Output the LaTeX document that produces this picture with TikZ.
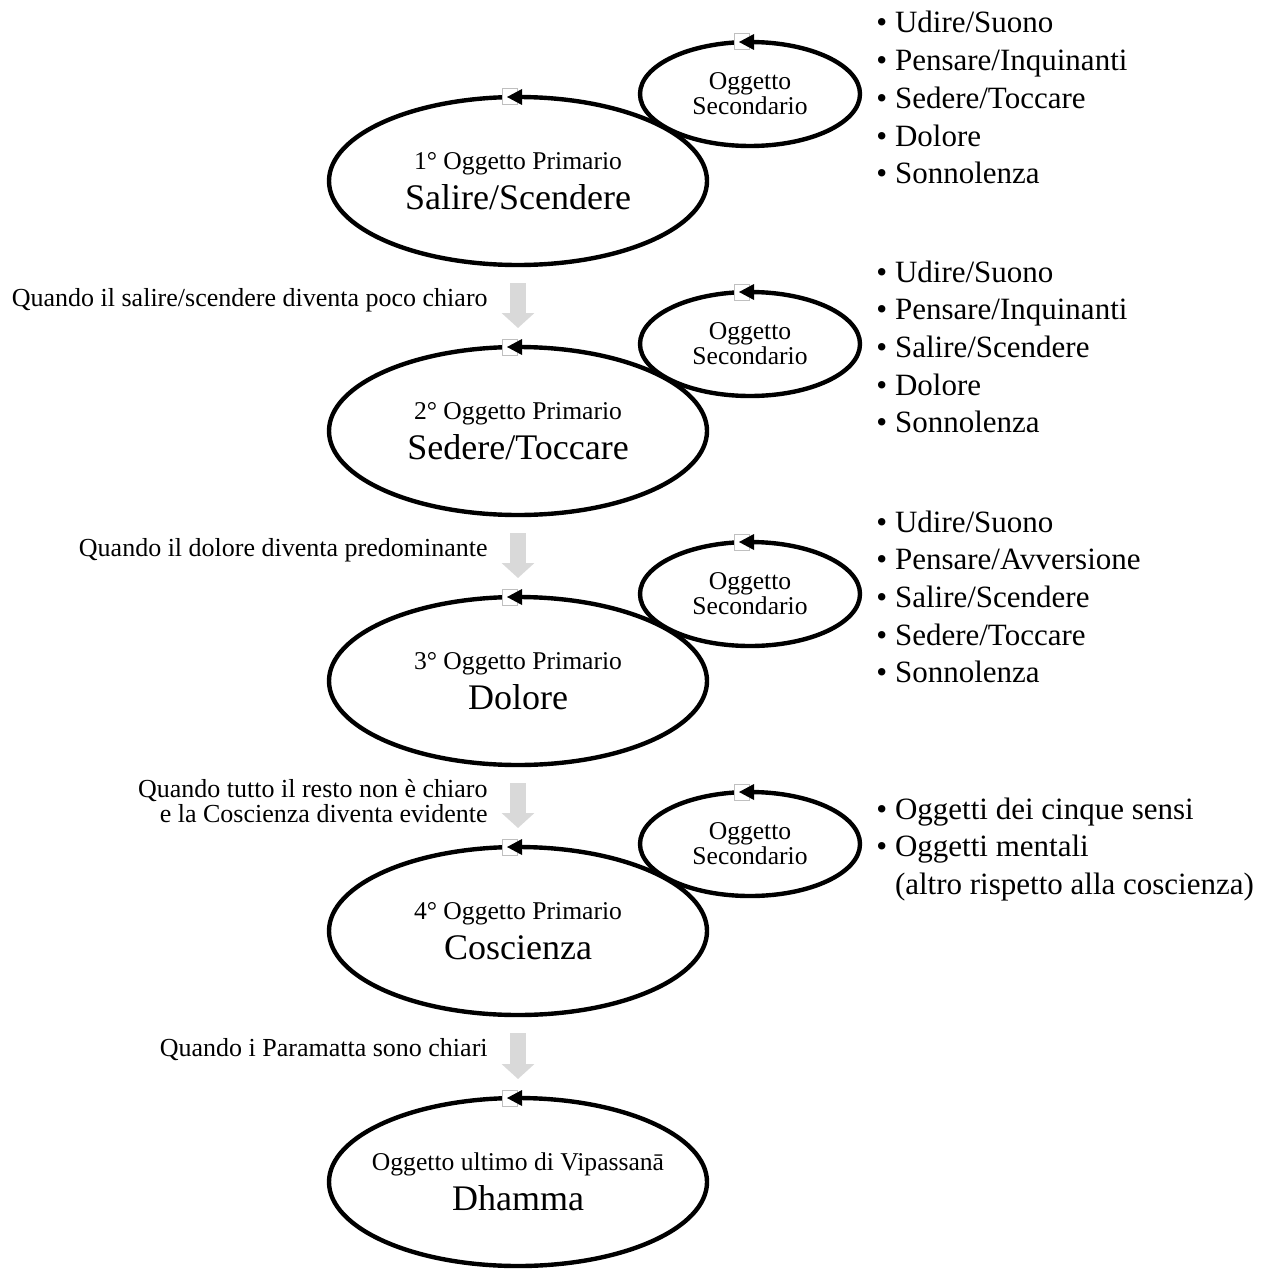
\documentclass[tikz,border=0pt]{standalone}
\usepackage{fontspec}
\setmainfont{Liberation Serif}
\usetikzlibrary{shapes.geometric, arrows.meta}
\definecolor{arrowgray}{HTML}{D9D9D9}
\definecolor{markgray}{HTML}{BFBFBF}
\newcommand{\objname}[1]{{\fontsize{18}{20}\selectfont #1}}

\tikzset{
    primary/.style={ellipse, draw, line width=2.2pt, minimum width=189pt, minimum height=84pt,
        inner sep=0pt, outer sep=0pt, align=center, font=\fontsize{12.8}{20}\selectfont},
    secondary/.style={ellipse, draw, line width=2.2pt, minimum width=110pt, minimum height=52pt,
        inner sep=0pt, outer sep=0pt, align=center, font=\fontsize{12.8}{12.5}\selectfont},
    cond/.style={anchor=base east, align=right, inner sep=0pt, font=\fontsize{13}{12.5}\selectfont},
    item/.style={anchor=base west, inner sep=0pt, font=\fontsize{15.5}{18}\selectfont},
    flow/.style={draw=arrowgray, line width=8pt, -{Triangle[width=16pt,length=7.5pt]},
        shorten <=9pt, shorten >=9.5pt},
    cyclemark/.pic={
        \filldraw[draw=markgray, fill=white, line width=0.5pt] (-16,-8) rectangle (-1,8);
        \fill (-11,0) -- (4,-8) -- (4,8) -- cycle;
    }
}

\begin{document}
\begin{tikzpicture}[x=0.5pt, y=-0.5pt]
    \useasboundingbox (0,0) rectangle (1272,1268);

    % Primary objects
    \node[primary] (p1) at (518,181) {1° Oggetto Primario\\\objname{Salire/Scendere}};
    \node[primary] (p2) at (518,431) {2° Oggetto Primario\\\objname{Sedere/Toccare}};
    \node[primary] (p3) at (518,681) {3° Oggetto Primario\\\objname{Dolore}};
    \node[primary] (p4) at (518,931) {4° Oggetto Primario\\\objname{Coscienza}};
    \node[primary, inner xsep=-30pt] (p5) at (518,1182) {Oggetto ultimo di Vipassanā\\\objname{Dhamma}};

    % Secondary objects
    \node[secondary] (s1) at (750,94) {Oggetto\\Secondario};
    \node[secondary] (s2) at (750,344) {Oggetto\\Secondario};
    \node[secondary] (s3) at (750,594) {Oggetto\\Secondario};
    \node[secondary] (s4) at (750,844) {Oggetto\\Secondario};

    % Cycle marks on top of each ellipse
    \foreach \n in {p1,p2,p3,p4,p5,s1,s2,s3,s4} {
        \pic at (\n.north) {cyclemark};
    }

    % Transitions
    \draw[flow] (p1) -- (p2);
    \draw[flow] (p2) -- (p3);
    \draw[flow] (p3) -- (p4);
    \draw[flow] (p4) -- (p5);

    \node[cond] (q1) at (488,306) {Quando il salire/scendere diventa poco chiaro};
    \node[cond] (q2) at (488,556) {Quando il dolore diventa predominante};
    \node[cond, anchor=east] (q3) at (488,801) {Quando tutto il resto non è chiaro\\e la Coscienza diventa evidente};
    \node[cond] (q4) at (488,1056) {Quando i Paramatta sono chiari};

    % Lists of secondary objects
    \foreach \txt [count=\i from 0] in {Udire/Suono, Pensare/Inquinanti, Sedere/Toccare, Dolore, Sonnolenza}
        \node[item] (a\i) at (876,{33+37.7*\i}) {\textbullet\ \txt};
    \foreach \txt [count=\i from 0] in {Udire/Suono, Pensare/Inquinanti, Salire/Scendere, Dolore, Sonnolenza}
        \node[item] (b\i) at (876,{282+37.7*\i}) {\textbullet\ \txt};
    \foreach \txt [count=\i from 0] in {Udire/Suono, Pensare/Avversione, Salire/Scendere, Sedere/Toccare, Sonnolenza}
        \node[item] (c\i) at (876,{532+37.7*\i}) {\textbullet\ \txt};
    \node[item] (d0) at (876,819) {\textbullet\ Oggetti dei cinque sensi};
    \node[item] (d1) at (876,856.7) {\textbullet\ Oggetti mentali};
    \node[item] (d2) at (876,894.4) {\hphantom{\textbullet\ }(altro rispetto alla coscienza)};
\end{tikzpicture}
\end{document}
